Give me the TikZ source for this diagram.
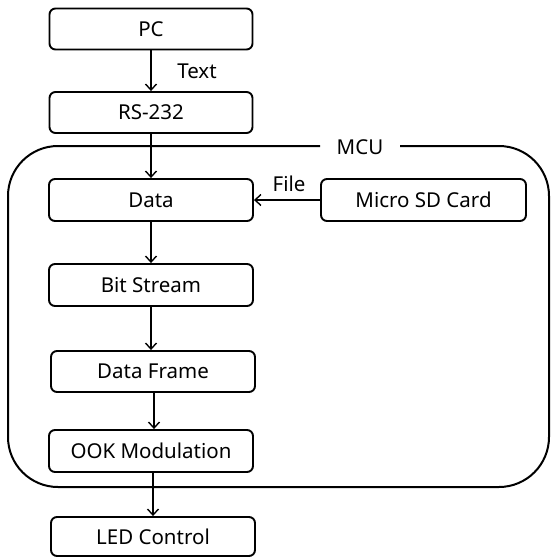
\documentclass[tikz,border=0pt]{standalone}
\usepackage{fontspec}
\setmainfont{Noto Sans}
\usetikzlibrary{arrows.meta}
\begin{document}
\begin{tikzpicture}[x=1pt,y=-1pt,
  blk/.style={draw, line width=1.9pt, rounded corners=6pt, minimum height=41pt, inner sep=0pt, font=\fontsize{20.5}{24}\selectfont},
  lbl/.style={font=\fontsize{20.5}{24}\selectfont, inner sep=1pt},
  conn/.style={line width=1.4pt, -{Straight Barb[length=6pt,width=11pt,line width=1.4pt]}}]
\useasboundingbox (0,0) rectangle (551,558);
\node[blk, minimum width=203pt] (pc) at (151,29) {PC};
\node[blk, minimum width=203pt] (rs) at (151,112.5) {RS-232};
\node[blk, minimum width=204pt, minimum height=42pt] (data) at (151,200) {Data};
\node[blk, minimum width=204pt, minimum height=42pt] (bit) at (151,285) {Bit Stream};
\node[blk, minimum width=204pt] (frame) at (153,371.5) {Data Frame};
\node[blk, minimum width=204pt, minimum height=42pt] (ook) at (151,451) {OOK Modulation};
\node[blk, minimum width=204pt, minimum height=39pt] (led) at (153,536.5) {LED Control};
\node[blk, minimum width=205pt, minimum height=42pt] (sd) at (423.5,200) {Micro SD Card};
\draw[line width=2pt, rounded corners=50pt] (400,146) -- (549,146) -- (549,487) -- (8,487) -- (8,146) -- (320,146);
\node[lbl] (mcu) at (360,147) {MCU};
\draw[conn] (pc.south) -- (pc.south |- rs.north);
\draw[conn] (rs.south) -- (rs.south |- data.north);
\draw[conn] (data.south) -- (data.south |- bit.north);
\draw[conn] (bit.south) -- (bit.south |- frame.north);
\draw[conn] ([xshift=1pt]frame.south) -- ([xshift=1pt]frame.south |- ook.north);
\draw[conn] ([xshift=2pt]ook.south) -- ([xshift=2pt]ook.south |- led.north);
\draw[conn] (sd.west) -- (data.east);
\node[lbl] (text) at (197,71) {Text};
\node[lbl] (file) at (289,184) {File};
\end{tikzpicture}
\end{document}
